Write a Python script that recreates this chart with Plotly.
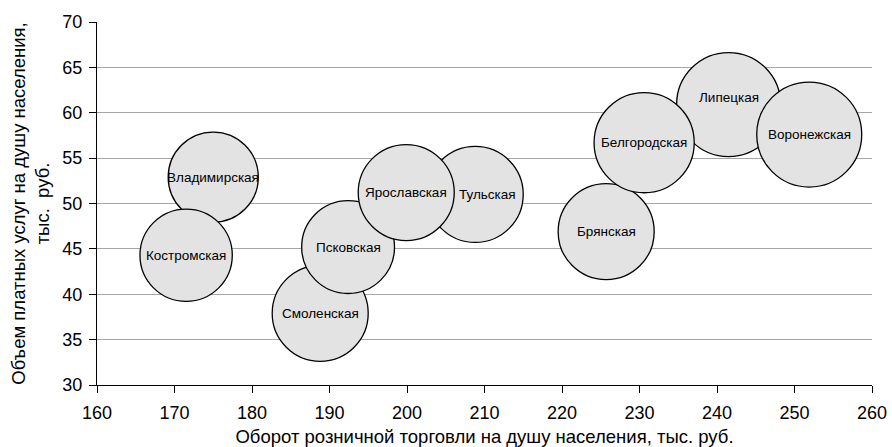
import plotly.graph_objects as go

regions = ["Владимирская", "Костромская", "Смоленская", "Псковская", "Тульская",
           "Ярославская", "Брянская", "Липецкая", "Белгородская", "Воронежская"]
retail_turnover = [175.0, 171.5, 188.8, 192.4, 208.8, 199.9, 225.7, 241.5, 230.6, 251.9]
paid_services = [52.9, 44.3, 37.9, 45.2, 51.0, 51.2, 46.9, 60.9, 56.7, 57.6]
bubble_size = [81, 85, 92, 86, 92, 92, 92, 108, 100, 110]

x_ticks = [160, 170, 180, 190, 200, 210, 220, 230, 240, 250, 260]
y_ticks = [30, 35, 40, 45, 50, 55, 60, 65, 70]

# label nudges (pixels) as in the original
label_dx = [0, 0, 0, 0, 12, 0, 0, 0, 0, 0]
label_dy = [0, 0, 0, 0, 0, 0, 0, 7, 0, 0]

max_px = 105
fig = go.Figure()
fig.add_trace(go.Scatter(
    x=retail_turnover, y=paid_services, mode="markers",
    marker=dict(size=bubble_size, sizemode="area",
                sizeref=2.0 * max(bubble_size) / (max_px ** 2),
                color="#e3e3e3", opacity=1,
                line=dict(color="black", width=1.3)),
    hoverinfo="text", text=regions, showlegend=False,
))

for name, xv, yv, dx, dy in zip(regions, retail_turnover, paid_services, label_dx, label_dy):
    fig.add_annotation(x=xv, y=yv, text=name, showarrow=False, xshift=dx, yshift=dy,
                       font=dict(family="Liberation Sans, Arial", size=13.5, color="black"))

fig.update_layout(
    width=892, height=447,
    margin=dict(l=97, r=20, t=22, b=62),
    paper_bgcolor="white", plot_bgcolor="white",
    font=dict(family="Liberation Sans, Arial", color="black"),
    xaxis=dict(range=[160, 260], tickvals=x_ticks, showgrid=False, automargin=False,
               showline=True, linecolor="black", linewidth=1.3,
               ticks="outside", ticklen=7, tickcolor="black", tickwidth=1.3,
               ticklabelstandoff=4,
               tickfont=dict(size=18), zeroline=False,
               title=dict(text="Оборот розничной торговли на душу населения, тыс. руб.",
                          font=dict(size=18.5), standoff=10)),
    yaxis=dict(range=[30, 70], tickvals=y_ticks, showgrid=True, automargin=False,
               gridcolor="#a6a6a6", gridwidth=1.3,
               showline=True, linecolor="black", linewidth=1.3,
               ticks="outside", ticklen=7, tickcolor="black", tickwidth=1.3,
               ticklabelstandoff=3,
               tickfont=dict(size=18), zeroline=False,
               title=dict(text="Объем платных услуг на душу населения,<br>тыс.  руб.",
                          font=dict(size=18.5), standoff=7)),
)

fig.write_html("out.html", config={"displayModeBar": False},
               post_script="document.body.style.margin='0';")
